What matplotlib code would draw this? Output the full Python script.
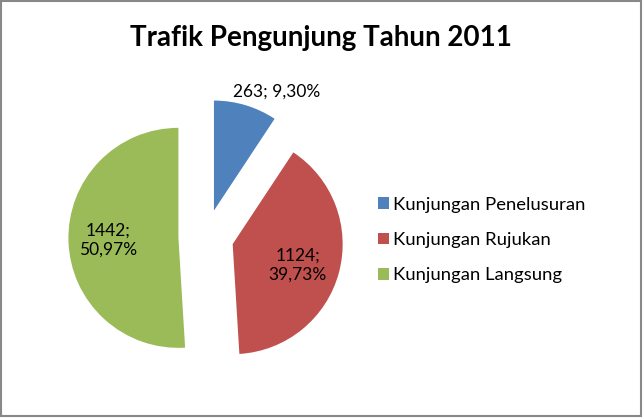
import numpy as np
import matplotlib
matplotlib.use('Agg')
import matplotlib.pyplot as plt
from matplotlib.patches import Rectangle

# data
categories = ['Kunjungan Penelusuran', 'Kunjungan Rujukan', 'Kunjungan Langsung']
visits = [263, 1124, 1442]
colors = ['#4F81BD', '#C0504D', '#9BBB59']
title = 'Trafik Pengunjung Tahun 2011'

W, H = 643, 418
plt.rcParams['font.family'] = ['Lato', 'DejaVu Sans']

fig = plt.figure(figsize=(W / 100, H / 100), dpi=100)
ax = fig.add_axes([0, 0, 1, 1])
ax.set_xlim(0, W)
ax.set_ylim(0, H)
ax.set_aspect('equal')
ax.axis('off')

# pie geometry in pixel units (y measured from bottom)
cx, cy, r = 206, H - 237, 110
explode = [27.6] * len(visits)   # pie() takes the offset in data units

wedges, _ = ax.pie(visits, colors=colors, startangle=90, counterclock=False,
                   center=(cx, cy), radius=r, explode=explode,
                   wedgeprops=dict(linewidth=0))
ax.set_xlim(0, W)
ax.set_ylim(0, H)

# data labels: "value; pct%" with comma decimal
total = float(sum(visits))
label_dist = [1.22, 0.62, 0.64]
label_shift = [-11, -3, 0]   # degrees, tweak of the label direction
label_fmt = ['{v}; {p}', '{v};\n{p}', '{v};\n{p}']
for w, v, d, s, f in zip(wedges, visits, label_dist, label_shift, label_fmt):
    mid = np.deg2rad((w.theta1 + w.theta2) / 2 + s)
    x0, y0 = w.center
    pct = ('%.2f%%' % (100 * v / total)).replace('.', ',')
    ax.text(x0 + d * r * np.cos(mid), y0 + d * r * np.sin(mid),
            f.format(v=v, p=pct), ha='center', va='center',
            fontsize=12.5, color='black', linespacing=1.2)

ax.text(W / 2 - 1, H - 38, title, ha='center', va='center',
        fontsize=20, fontweight='bold', color='black')

ax.legend(wedges, categories, loc='center left',
          bbox_to_anchor=(361 / W, 1 - 240 / H), bbox_transform=fig.transFigure,
          frameon=False, fontsize=13.3, handlelength=0.6, handleheight=0.6,
          handletextpad=0.25, labelspacing=1.05)

fig.patches.append(Rectangle((0.5 / W, 2 / H), (W - 3) / W, (H - 3) / H,
                             transform=fig.transFigure, fill=False,
                             edgecolor='#888888', linewidth=1.5))

fig.savefig('out.png', dpi=100)
